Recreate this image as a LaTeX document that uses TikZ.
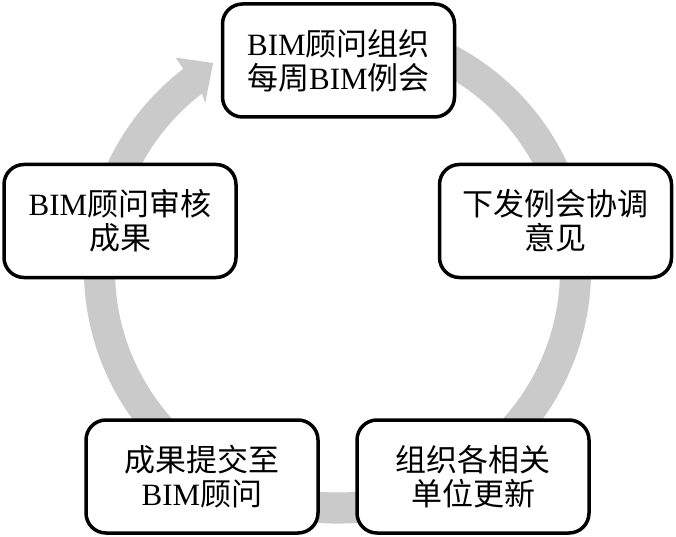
\documentclass[tikz,border=0pt]{standalone}
\usepackage{fontspec}
\usetikzlibrary{calc}
\setmainfont{Liberation Serif}
\newfontfamily\cjk{Noto Sans CJK SC}
\definecolor{ringgray}{RGB}{202,202,202}
\begin{document}
\begin{tikzpicture}[x=1pt,y=1pt,
  stepbox/.style={draw=black, line width=3.5pt, fill=white, rounded corners=20pt,
    minimum width=232pt, minimum height=113pt, inner sep=0pt, align=center,
    font=\fontsize{31}{34}\selectfont}]
\useasboundingbox (0,0) rectangle (676,536);
\coordinate (c) at (337.5,266);
% circular arrow
\fill[ringgray] ($(c)+(70:253.5)$) arc[start angle=70, end angle=-232.5, radius=253.5]
  -- ($(c)+(-232.7:267)$) -- ($(c)+(-239:241.5)$) -- ($(c)+(-231.6:213)$)
  -- ($(c)+(-232.5:222.5)$) arc[start angle=-232.5, end angle=70, radius=222.5] -- cycle;
% boxes
\node[stepbox] (top) at (338.5,475.5) {BIM{\cjk 顾问组织}\\{\cjk 每周}BIM{\cjk 例会}};
\node[stepbox] (right) at (555.5,315) {{\cjk 下发例会协调}\\{\cjk 意见}};
\node[stepbox] (br) at (473,59.5) {{\cjk 组织各相关}\\{\cjk 单位更新}};
\node[stepbox] (bl) at (202,59.5) {{\cjk 成果提交至}\\BIM{\cjk 顾问}};
\node[stepbox] (left) at (120,315) {BIM{\cjk 顾问审核}\\{\cjk 成果}};
\end{tikzpicture}
\end{document}
